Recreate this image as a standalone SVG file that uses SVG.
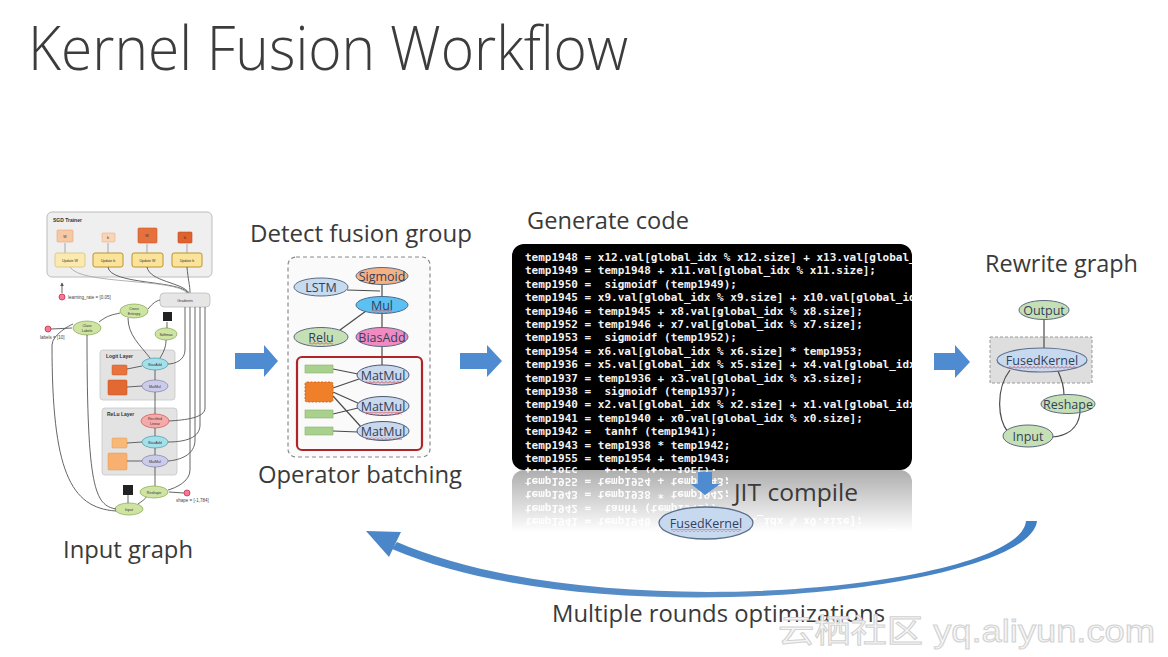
<svg xmlns="http://www.w3.org/2000/svg" xmlns:xlink="http://www.w3.org/1999/xlink" width="1168" height="657" viewBox="0 0 1168 657">
<defs>
<style>
.lbl{font-family:"Open Sans","Noto Sans",sans-serif;fill:#3a3a3a;font-size:23px}
.title{font-family:"Open Sans","Noto Sans",sans-serif;font-weight:300;fill:#3c3c3c;font-size:60px}
.nt{font-family:"Open Sans","Noto Sans",sans-serif;font-size:12.5px;fill:#34405a;text-anchor:middle}
.code{font-family:"DejaVu Sans Mono","Liberation Mono",monospace;font-weight:bold;font-size:11px;fill:#f2f2f2;white-space:pre}
.edge{stroke:#4a4a4a;stroke-width:1.2;fill:none}
.ge{stroke:#555;stroke-width:0.9;fill:none}
.tiny{font-family:"Liberation Sans",Arial,sans-serif;font-size:4.5px;fill:#444}
.tinyb{font-family:"Liberation Sans",Arial,sans-serif;font-size:5px;fill:#333;font-weight:bold}
.tinyc{font-family:"Liberation Sans",Arial,sans-serif;font-size:3.6px;fill:#333;text-anchor:middle}
.green{fill:#cfe3a3;stroke:#8fae5a;stroke-width:0.8}
.arrow{fill:#4f8bd1}
.wm{font-family:"Liberation Sans","Noto Sans CJK SC",sans-serif;font-size:32px;fill:#f6f6f6;stroke:#d2d2d2;stroke-width:1}
</style>
<pattern id="wavy" width="4" height="3" patternUnits="userSpaceOnUse">
<path d="M0,2.5 L2,0.5 L4,2.5" fill="none" stroke="#e0303a" stroke-width="0.8"/>
</pattern>
<clipPath id="codeclip"><rect x="512" y="244" width="400" height="226" rx="12"/></clipPath>
<linearGradient id="fade" x1="0" y1="0" x2="0" y2="1">
<stop offset="0" stop-color="#fff" stop-opacity="0.32"/>
<stop offset="1" stop-color="#fff" stop-opacity="0"/>
</linearGradient>
<mask id="reflmask" maskUnits="userSpaceOnUse" x="500" y="470" width="420" height="70">
<rect x="500" y="470" width="420" height="62" fill="url(#fade)"/>
</mask>
<linearGradient id="arcgrad" x1="0" y1="0" x2="1" y2="0">
<stop offset="0" stop-color="#4a86c8"/>
<stop offset="0.5" stop-color="#5b8fc6"/>
<stop offset="1" stop-color="#3f7fc4"/>
</linearGradient>
<marker id="tiny-arr" viewBox="0 0 6 6" refX="5" refY="3" markerWidth="4" markerHeight="4" orient="auto">
<path d="M0,0 L6,3 L0,6 Z" fill="#555"/>
</marker>
</defs>
<rect width="1168" height="657" fill="#ffffff"/>

<text class="title" x="28" y="70" textLength="600" lengthAdjust="spacingAndGlyphs">Kernel Fusion Workflow</text>

<!-- Input graph thumbnail -->
<g id="input-graph">
<rect x="47" y="212" width="165" height="65" rx="5" fill="#efefef" stroke="#bcbcbc" stroke-width="1"/>
<text class="tinyb" x="53" y="222">SGD Trainer</text>
<rect x="57" y="230" width="16" height="12" rx="1" fill="#f7c8a4" stroke="#e4a27a" stroke-width="0.6"/>
<rect x="102" y="233" width="13" height="9" rx="1" fill="#f9d4b7" stroke="#e6b08c" stroke-width="0.6"/>
<rect x="138" y="228" width="19" height="15" rx="1" fill="#e6713d" stroke="#c85a2a" stroke-width="0.6"/>
<rect x="178" y="232" width="14" height="11" rx="1" fill="#e0622e" stroke="#c24e20" stroke-width="0.6"/>
<text class="tinyc" x="65" y="238">W</text><text class="tinyc" x="108" y="239">b</text><text class="tinyc" x="147" y="237">W</text><text class="tinyc" x="185" y="239">b</text>
<g stroke="#777" stroke-width="0.6">
<line x1="65" y1="253" x2="65" y2="243"/><line x1="108" y1="253" x2="108" y2="243"/><line x1="147" y1="253" x2="147" y2="244"/><line x1="187" y1="253" x2="187" y2="244"/>
</g>
<rect x="55" y="253" width="30" height="14" rx="2" fill="#fbeab0" stroke="#d9c07a" stroke-width="0.8"/>
<rect x="93" y="253" width="30" height="14" rx="2" fill="#fbe39a" stroke="#b8962e" stroke-width="1"/>
<rect x="132" y="253" width="31" height="14" rx="2" fill="#fbe39a" stroke="#b8962e" stroke-width="1"/>
<rect x="172" y="253" width="30" height="14" rx="2" fill="#fbe39a" stroke="#b8962e" stroke-width="1"/>
<text class="tinyc" x="70" y="261.5">Update W</text><text class="tinyc" x="108" y="261.5">Update b</text><text class="tinyc" x="147.5" y="261.5">Update W</text><text class="tinyc" x="187" y="261.5">Update b</text>
<g class="ge">
<path d="M108,267 C110,285 180,280 188,293"/>
<path d="M147,267 C150,282 182,282 189,293"/>
<path d="M187,267 C188,280 190,285 190,293"/>
<path d="M70,267 C80,285 175,278 187,293" stroke="#aaa"/>
</g>
<rect x="160" y="293" width="50" height="14" rx="4" fill="#e6e6e6" stroke="#bdbdbd" stroke-width="0.8"/>
<text class="tinyc" x="185" y="301.5">Gradients</text>
<circle cx="62" cy="297" r="3" fill="#f27a94" stroke="#c8304e" stroke-width="0.8"/>
<line x1="62" y1="293" x2="62" y2="283" class="ge" marker-end="url(#tiny-arr)"/>
<text class="tiny" x="68" y="299" font-size="3.4">learning_rate = [0.05]</text>
<circle cx="48" cy="329" r="3" fill="#f27a94" stroke="#c8304e" stroke-width="0.8"/>
<text class="tiny" x="40" y="339" font-size="3.4">labels = [10]</text>
<line x1="51" y1="329" x2="72" y2="328" class="ge"/>
<ellipse cx="87" cy="328" rx="14" ry="7" class="green"/>
<text class="tinyc" x="87" y="327">Class</text><text class="tinyc" x="87" y="331.5">Labels</text>
<ellipse cx="134" cy="311" rx="14" ry="7" class="green"/>
<text class="tinyc" x="134" y="310">Cross</text><text class="tinyc" x="134" y="314.5">Entropy</text>
<path d="M99,322 C108,315 112,315 120,313" class="ge"/>
<path d="M148,309 C153,303 156,301 160,300" class="ge"/>
<rect x="163" y="312" width="9" height="9" fill="#222"/>
<ellipse cx="166" cy="334" rx="11" ry="6" class="green"/>
<text class="tinyc" x="166" y="335.5">Softmax</text>
<line x1="167" y1="328" x2="167" y2="322" class="ge"/>
<rect x="100" y="350" width="75" height="50" rx="3" fill="#e3e3e3" stroke="#c6c6c6" stroke-width="0.8"/>
<text class="tinyb" x="106" y="358">Logit Layer</text>
<rect x="112" y="365" width="15" height="10" rx="1" fill="#e8743c" stroke="#c85a2a" stroke-width="0.5"/>
<rect x="108" y="380" width="19" height="15" rx="1" fill="#e26a32" stroke="#c24e20" stroke-width="0.5"/>
<ellipse cx="155" cy="364" rx="13" ry="6" fill="#a3e0ea" stroke="#5aa0b2" stroke-width="0.8"/>
<text class="tinyc" x="155" y="365.5">BiasAdd</text>
<ellipse cx="155" cy="386" rx="13" ry="6" fill="#ccccea" stroke="#8a8ab2" stroke-width="0.8"/>
<text class="tinyc" x="155" y="387.5">MatMul</text>
<g class="ge">
<line x1="127" y1="369" x2="142" y2="366"/><line x1="127" y1="387" x2="142" y2="386"/>
<line x1="155" y1="380" x2="155" y2="370"/>
<path d="M160,358 C165,350 166,345 166,340"/>
<path d="M150,358 C140,345 128,335 128,318"/>
</g>
<rect x="102" y="408" width="75" height="67" rx="3" fill="#e3e3e3" stroke="#c6c6c6" stroke-width="0.8"/>
<text class="tinyb" x="107" y="416">ReLu Layer</text>
<ellipse cx="155" cy="421" rx="14" ry="7" fill="#f5aaaa" stroke="#d06464" stroke-width="0.8"/>
<text class="tinyc" x="155" y="420">Rectified</text><text class="tinyc" x="155" y="424.5">Linear</text>
<ellipse cx="155" cy="442" rx="13" ry="6" fill="#a3e0ea" stroke="#5aa0b2" stroke-width="0.8"/>
<text class="tinyc" x="155" y="443.5">BiasAdd</text>
<ellipse cx="155" cy="461" rx="13" ry="6" fill="#ccccea" stroke="#8a8ab2" stroke-width="0.8"/>
<text class="tinyc" x="155" y="462.5">MatMul</text>
<rect x="112" y="438" width="15" height="10" rx="1" fill="#f8b878" stroke="#e09a50" stroke-width="0.5"/>
<rect x="108" y="453" width="19" height="17" rx="1" fill="#f8b070" stroke="#e09a50" stroke-width="0.5"/>
<g class="ge">
<line x1="155" y1="414" x2="155" y2="392"/>
<line x1="155" y1="436" x2="155" y2="428"/>
<line x1="155" y1="455" x2="155" y2="448"/>
<line x1="127" y1="443" x2="142" y2="442"/><line x1="127" y1="461" x2="142" y2="461"/>
<line x1="155" y1="486" x2="155" y2="467"/>
</g>
<ellipse cx="154" cy="492" rx="14" ry="6" class="green"/>
<text class="tinyc" x="154" y="493.5">Reshape</text>
<ellipse cx="129" cy="509" rx="14" ry="6" class="green"/>
<text class="tinyc" x="129" y="510.5">Input</text>
<rect x="123" y="485" width="10" height="10" fill="#222"/>
<circle cx="187" cy="493" r="3" fill="#f27a94" stroke="#c8304e" stroke-width="0.8"/>
<line x1="184" y1="493" x2="169" y2="492" class="ge"/>
<text class="tiny" x="176" y="502" font-size="3.4">shape = [-1,784]</text>
<g class="ge">
<path d="M138,504 C144,500 146,498 146,497"/>
<line x1="128" y1="503" x2="128" y2="495"/>
<path d="M116,509 C95,505 87,490 87,335"/>
<path d="M116,511 C70,508 52,470 52,345 C52,335 70,325 73,324"/>
<path d="M195,307 L195,440 C195,455 180,460 168,461"/>
<path d="M200,307 L200,425 C200,438 185,442 168,442"/>
<path d="M205,307 L205,408 C205,418 185,420 169,421"/>
<path d="M190,307 L190,470 C190,482 175,488 168,490"/>
<path d="M185,307 L185,350 C185,360 175,364 168,364"/>
</g>
</g>

<text class="lbl" x="63" y="558" textLength="130" lengthAdjust="spacingAndGlyphs">Input graph</text>

<!-- arrows -->
<g id="connectors">
<path class="arrow" d="M235,353 L264,353 L264,345 L278,361 L264,377 L264,369 L235,369 Z"/>
<path class="arrow" d="M460,353 L487,353 L487,345 L502,361 L487,377 L487,369 L460,369 Z"/>
<path class="arrow" d="M934,353 L955,353 L955,345 L970,362 L955,378 L955,370 L934,370 Z"/>
<path d="M1037,521 C1030,590 600,638 392,549 L397,542 C600,630 1020,588 1026,521 Z" fill="url(#arcgrad)"/>
<path d="M366,531 L401,532 L389,557 Z" fill="#4a86c8"/>
</g>

<!-- Detect fusion group -->
<text class="lbl" x="250" y="242" textLength="222" lengthAdjust="spacingAndGlyphs">Detect fusion group</text>
<g id="fusion-group">
<rect x="288" y="257" width="142" height="200" rx="8" fill="#fafafa" stroke="#8a8a8a" stroke-width="1.2" stroke-dasharray="4,3"/>
<g class="edge">
<line x1="382" y1="283" x2="382" y2="297"/>
<path d="M347,290 L380,291"/>
<path d="M340,330 L366,311"/>
<line x1="382" y1="313" x2="382" y2="328"/>
<line x1="382" y1="347" x2="382" y2="365"/>
</g>
<rect x="297" y="357" width="125" height="93" rx="5" fill="none" stroke="#b02428" stroke-width="2.2"/>
<g class="edge" stroke-width="1">
<line x1="333" y1="369" x2="358" y2="374"/>
<line x1="333" y1="388" x2="359" y2="379"/>
<line x1="333" y1="392" x2="360" y2="404"/>
<line x1="333" y1="396" x2="362" y2="428"/>
<line x1="333" y1="414" x2="358" y2="408"/>
<line x1="333" y1="431" x2="358" y2="432"/>
</g>
<g id="n-sigmoid"><ellipse cx="382" cy="276" rx="26" ry="8.5" fill="#f4b184" stroke="#5a6a80" stroke-width="1"/><text class="nt" x="382" y="280.5">Sigmoid</text></g>
<g id="n-lstm"><ellipse cx="321" cy="287" rx="27" ry="9" fill="#c6dbef" stroke="#5a6a80" stroke-width="1"/><text class="nt" x="321" y="291.5">LSTM</text></g>
<g id="n-mul"><ellipse cx="382" cy="305" rx="26" ry="8.5" fill="#5cc0f2" stroke="#4a6a8a" stroke-width="1"/><text class="nt" x="382" y="309.5">Mul</text><rect x="372" y="310" width="20" height="3" fill="url(#wavy)"/></g>
<g id="n-relu"><ellipse cx="321" cy="337" rx="27" ry="9.5" fill="#c6e0b5" stroke="#5a6a80" stroke-width="1"/><text class="nt" x="321" y="341.5">Relu</text><rect x="309" y="342" width="24" height="3" fill="url(#wavy)"/></g>
<g id="n-biasadd"><ellipse cx="382" cy="337" rx="26" ry="9.5" fill="#f28ac2" stroke="#5a6a80" stroke-width="1"/><text class="nt" x="382" y="341.5">BiasAdd</text></g>
<g id="n-green1"><rect x="305" y="365" width="28" height="8" fill="#a9d18e" stroke="#8ab070" stroke-width="0.6"/></g>
<g id="n-orange"><rect x="305" y="382" width="28" height="20" rx="2" fill="#f07f2a" stroke="#c05a10" stroke-width="0.8" stroke-dasharray="2,1.5"/></g>
<g id="n-green2"><rect x="305" y="410" width="28" height="8" fill="#a9d18e" stroke="#8ab070" stroke-width="0.6"/></g>
<g id="n-green3"><rect x="305" y="427" width="28" height="8" fill="#a9d18e" stroke="#8ab070" stroke-width="0.6"/></g>
<g id="n-matmul1"><ellipse cx="383" cy="375" rx="26" ry="10" fill="#c9d8ea" stroke="#4a5a78" stroke-width="1"/><text class="nt" x="383" y="379.5">MatMul</text><rect x="366" y="381" width="36" height="3" fill="url(#wavy)"/></g>
<g id="n-matmul2"><ellipse cx="383" cy="406" rx="26" ry="9.5" fill="#c9d8ea" stroke="#4a5a78" stroke-width="1"/><text class="nt" x="383" y="410.5">MatMul</text><rect x="366" y="412" width="36" height="3" fill="url(#wavy)"/></g>
<g id="n-matmul3"><ellipse cx="383" cy="431" rx="26" ry="9.5" fill="#c9d8ea" stroke="#4a5a78" stroke-width="1"/><text class="nt" x="383" y="435.5">MatMul</text><rect x="366" y="437" width="36" height="3" fill="url(#wavy)"/></g>
</g>
<text class="lbl" x="258" y="483" textLength="204" lengthAdjust="spacingAndGlyphs">Operator batching</text>

<!-- Generate code -->
<text class="lbl" x="527" y="229" textLength="162" lengthAdjust="spacingAndGlyphs">Generate code</text>
<g id="code-block">
<g id="codesrc">
<rect x="512" y="244" width="400" height="226" rx="12" fill="#000"/>
<g clip-path="url(#codeclip)" xml:space="preserve">
<text class="code" x="525" y="261">temp1948 = x12.val[global_idx % x12.size] + x13.val[global_</text>
<text class="code" x="525" y="274.4">temp1949 = temp1948 + x11.val[global_idx % x11.size];</text>
<text class="code" x="525" y="287.8">temp1950 =  sigmoidf (temp1949);</text>
<text class="code" x="525" y="301.2">temp1945 = x9.val[global_idx % x9.size] + x10.val[global_idx</text>
<text class="code" x="525" y="314.6">temp1946 = temp1945 + x8.val[global_idx % x8.size];</text>
<text class="code" x="525" y="328">temp1952 = temp1946 + x7.val[global_idx % x7.size];</text>
<text class="code" x="525" y="341.4">temp1953 =  sigmoidf (temp1952);</text>
<text class="code" x="525" y="354.8">temp1954 = x6.val[global_idx % x6.size] * temp1953;</text>
<text class="code" x="525" y="368.2">temp1936 = x5.val[global_idx % x5.size] + x4.val[global_idx</text>
<text class="code" x="525" y="381.6">temp1937 = temp1936 + x3.val[global_idx % x3.size];</text>
<text class="code" x="525" y="395">temp1938 =  sigmoidf (temp1937);</text>
<text class="code" x="525" y="408.4">temp1940 = x2.val[global_idx % x2.size] + x1.val[global_idx</text>
<text class="code" x="525" y="421.8">temp1941 = temp1940 + x0.val[global_idx % x0.size];</text>
<text class="code" x="525" y="435.2">temp1942 =  tanhf (temp1941);</text>
<text class="code" x="525" y="448.6">temp1943 = temp1938 * temp1942;</text>
<text class="code" x="525" y="462">temp1955 = temp1954 + temp1943;</text>
<text class="code" x="525" y="475.4">temp1956 =  tanhf (temp1955);</text>
</g>
</g>
<g mask="url(#reflmask)">
<use xlink:href="#codesrc" href="#codesrc" transform="matrix(1,0,0,-1,0,940)"/>
</g>
</g>

<g id="jit">
<path class="arrow" d="M698,472 L712,472 L712,484 L720,484 L705,495 L691,484 L698,484 Z" fill="#5a9ad8"/>
<text class="lbl" x="734" y="501" textLength="124" lengthAdjust="spacingAndGlyphs">JIT compile</text>
</g>
<g id="n-fusedkernel-jit">
<ellipse cx="706" cy="523" rx="47" ry="16" fill="#c7d9ef" stroke="#5c6f8c" stroke-width="1.3"/>
<text class="nt" x="706" y="527.5" fill="#2f4f7f">FusedKernel</text>
<rect x="671" y="529" width="70" height="3" fill="url(#wavy)"/>
</g>

<!-- Rewrite graph -->
<text class="lbl" x="985" y="272" textLength="153" lengthAdjust="spacingAndGlyphs">Rewrite graph</text>
<g id="rewrite-graph">
<rect x="990" y="337" width="102" height="46" fill="#dedede" stroke="#9a9a9a" stroke-width="1" stroke-dasharray="3,2"/>
<g class="edge">
<line x1="1044" y1="319" x2="1044" y2="348"/>
<path d="M1010,370 C995,390 998,420 1008,432"/>
<path d="M1058,371 C1062,380 1064,388 1064,395"/>
<path d="M1080,413 C1078,430 1065,436 1052,437"/>
</g>
<g id="n-output"><ellipse cx="1044" cy="310" rx="25" ry="9.5" fill="#c6e0b5" stroke="#5a6a80" stroke-width="1"/><text class="nt" x="1044" y="314.5">Output</text></g>
<g id="n-fusedkernel"><ellipse cx="1042" cy="360" rx="45" ry="12" fill="#c7d9ef" stroke="#5c6f8c" stroke-width="1.2"/><text class="nt" x="1042" y="364.5" fill="#2f4f7f">FusedKernel</text><rect x="1007" y="366" width="70" height="3" fill="url(#wavy)"/></g>
<g id="n-reshape"><ellipse cx="1068" cy="404" rx="27" ry="9.5" fill="#c6e0b5" stroke="#5a6a80" stroke-width="1"/><text class="nt" x="1068" y="408.5">Reshape</text></g>
<g id="n-input"><ellipse cx="1028" cy="436" rx="25" ry="11" fill="#c6e0b5" stroke="#5a6a80" stroke-width="1"/><text class="nt" x="1028" y="440.5">Input</text></g>
</g>

<text class="lbl" x="552" y="622" textLength="333" lengthAdjust="spacingAndGlyphs">Multiple rounds optimizations</text>

<text class="wm" x="778" y="642" textLength="377" lengthAdjust="spacingAndGlyphs">云栖社区 yq.aliyun.com</text>
</svg>
